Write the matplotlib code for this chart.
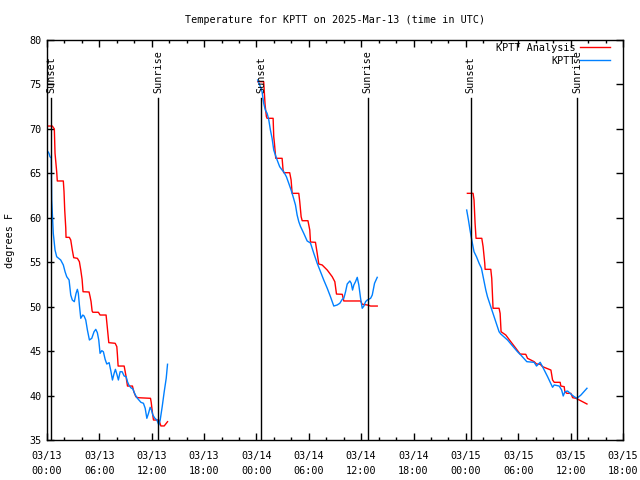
import numpy as np
import pandas as pd
import matplotlib
matplotlib.use("Agg")
import matplotlib.pyplot as plt
import matplotlib.dates as mdates

plt.rcParams['font.family'] = ['DejaVu Sans Mono']
plt.rcParams['font.size'] = 7.3

start = pd.Timestamp('2025-03-13 00:00')

# hours after 03/13 00:00 UTC, temperature in F
ana1_h = [0.11, 0.61, 0.84, 0.92, 1.11, 1.18, 1.87, 1.95, 2.03, 2.15, 2.18, 2.56, 2.72, 2.90, 3.06,
          3.48, 3.71, 3.87, 4.02, 4.13, 4.82, 4.94, 5.05, 5.17, 5.25, 5.89, 6.08, 6.77, 6.92, 7.08,
          7.81, 8.00, 8.07, 8.15, 8.84, 9.03, 9.22, 9.79, 9.95, 10.18, 10.41, 11.86, 11.94, 12.09,
          12.20, 12.82, 13.05, 13.43, 13.81]
ana1_t = [70.32, 70.32, 69.99, 67.25, 65.18, 64.14, 64.14, 62.93, 60.87, 58.85, 57.80, 57.80, 57.50,
          56.37, 55.51, 55.44, 55.06, 54.12, 53.08, 51.68, 51.65, 51.12, 50.56, 49.51, 49.37, 49.37,
          49.06, 49.06, 47.57, 45.95, 45.88, 45.50, 44.56, 43.32, 43.32, 42.31, 41.07, 41.07, 40.43,
          39.87, 39.76, 39.69, 39.24, 38.00, 37.25, 37.25, 36.58, 36.58, 37.06]

obs1_h = [0.11, 0.23, 0.34, 0.49, 0.54, 0.72, 0.92, 1.11, 1.57, 1.87, 2.07, 2.26, 2.53, 2.72, 2.90,
          3.13, 3.33, 3.48, 3.59, 3.71, 3.87, 4.10, 4.25, 4.44, 4.63, 4.86, 5.13, 5.39, 5.59, 5.77,
          5.93, 6.08, 6.28, 6.46, 6.66, 6.85, 7.12, 7.31, 7.50, 7.69, 7.84, 8.03, 8.18, 8.38, 8.61,
          8.84, 9.07, 9.22, 9.38, 9.61, 9.84, 10.07, 10.30, 10.53, 10.76, 11.05, 11.25, 11.44, 11.63,
          11.82, 11.97, 12.13, 12.36, 12.59, 12.82, 12.97, 13.20, 13.43, 13.66, 13.81]
obs1_t = [67.43, 67.25, 66.87, 66.72, 62.00, 58.25, 56.37, 55.62, 55.25, 54.69, 53.93, 53.37, 53.00,
          51.31, 50.75, 50.56, 51.50, 51.95, 51.50, 50.19, 48.69, 49.06, 48.95, 48.50, 47.37, 46.25,
          46.44, 47.18, 47.45, 47.07, 46.25, 44.75, 45.05, 44.93, 44.08, 43.55, 43.70, 42.80, 41.75,
          42.50, 42.95, 42.31, 41.75, 42.68, 42.68, 42.20, 42.12, 41.56, 41.19, 40.88, 40.74, 40.17,
          39.76, 39.50, 39.24, 39.13, 38.57, 37.44, 38.00, 38.68, 38.37, 37.81, 37.44, 37.25, 36.69,
          37.25, 38.75, 40.43, 41.94, 43.52]

ana2_h = [24.14, 24.83, 24.91, 24.99, 25.14, 25.22, 25.91, 25.98, 26.06, 26.21, 26.94, 27.05, 27.12,
          27.81, 27.97, 28.09, 28.85, 28.96, 29.12, 29.24, 29.90, 30.11, 30.19, 30.76, 30.96, 31.14,
          31.53, 32.11, 32.68, 32.98, 33.17, 33.83, 34.01, 35.93, 36.12, 36.70, 37.08, 37.84]
ana2_t = [75.31, 75.31, 74.00, 72.69, 71.37, 71.19, 71.19, 69.12, 68.38, 66.69, 66.69, 65.37, 65.07,
          65.07, 64.25, 62.75, 62.75, 61.81, 60.12, 59.67, 59.67, 58.62, 57.27, 57.24, 56.00, 54.80,
          54.69, 54.12, 53.37, 52.81, 51.42, 51.39, 50.64, 50.64, 50.27, 50.19, 50.07, 50.07]

obs2_h = [24.14, 24.45, 24.64, 24.83, 25.02, 25.22, 25.40, 25.60, 25.79, 25.98, 26.17, 26.37, 26.66,
          26.94, 27.12, 27.43, 27.70, 27.97, 28.20, 28.47, 28.66, 28.85, 29.04, 29.42, 29.81, 30.19,
          30.57, 30.96, 31.34, 31.71, 32.11, 32.48, 32.86, 33.25, 33.55, 33.83, 34.01, 34.21, 34.40,
          34.70, 34.86, 35.01, 35.16, 35.35, 35.55, 35.73, 35.93, 36.12, 36.31, 36.50, 36.70, 37.08,
          37.27, 37.53, 37.84]
obs2_t = [75.50, 74.75, 74.18, 72.88, 72.12, 71.75, 71.08, 69.87, 68.94, 67.62, 67.06, 66.50, 65.75,
          65.37, 65.18, 64.62, 63.88, 63.12, 62.37, 61.44, 60.31, 59.56, 59.04, 58.25, 57.39, 57.16,
          56.00, 54.88, 53.93, 53.00, 52.07, 51.12, 50.07, 50.19, 50.38, 50.83, 50.94, 51.68, 52.55,
          52.89, 52.63, 51.87, 52.44, 52.81, 53.30, 52.44, 50.94, 49.82, 50.07, 50.56, 50.75, 50.94,
          51.31, 52.63, 53.30]

ana3_h = [48.17, 48.82, 48.93, 49.05, 49.16, 49.82, 49.97, 50.16, 50.20, 50.85, 50.96, 51.11, 51.80,
          51.92, 52.03, 52.57, 53.14, 53.72, 54.21, 54.86, 55.06, 55.82, 56.09, 56.51, 56.78, 57.74,
          57.93, 58.12, 58.80, 58.88, 59.26, 59.34, 59.57, 60.03, 60.23, 60.61, 60.99, 61.87]
ana3_t = [62.75, 62.75, 62.00, 59.38, 57.69, 57.69, 56.75, 54.88, 54.20, 54.20, 53.19, 49.82, 49.82,
          49.25, 47.18, 46.81, 46.06, 45.32, 44.67, 44.64, 44.19, 43.81, 43.55, 43.52, 43.25, 42.87,
          41.75, 41.49, 41.49, 41.07, 41.00, 40.43, 40.25, 40.25, 39.76, 39.69, 39.50, 39.05]

obs3_h = [48.09, 48.29, 48.47, 48.67, 48.93, 49.21, 49.51, 49.78, 50.01, 50.28, 50.47, 50.85, 51.23,
          51.80, 52.00, 52.77, 53.91, 54.29, 54.98, 55.82, 56.09, 56.51, 56.78, 57.36, 57.93, 58.12,
          58.69, 58.97, 59.15, 59.34, 59.65, 60.03, 60.41, 60.72, 61.18, 61.87]
obs3_t = [60.87, 59.75, 58.62, 57.50, 56.18, 55.62, 54.88, 54.32, 53.19, 51.87, 51.12, 49.99, 48.87,
          47.18, 46.92, 46.25, 44.93, 44.56, 43.81, 43.74, 43.32, 43.74, 43.25, 42.12, 40.93, 41.19,
          41.07, 40.62, 39.95, 40.43, 40.51, 40.17, 39.87, 39.69, 40.06, 40.82]

sunset_h = [0.46, 24.56, 48.55]
sunrise_h = [12.74, 36.73, 60.72]


def to_time(hours):
    return start + pd.to_timedelta(np.array(hours), unit='h')


fig = plt.figure(figsize=(6.4, 4.8), dpi=100)
ax = fig.add_axes([47 / 640, 40 / 480, 576 / 640, 400 / 480])

red = '#ff0000'
blue = '#0080ff'
for k, (ah, at, oh, ot) in enumerate([(ana1_h, ana1_t, obs1_h, obs1_t),
                                      (ana2_h, ana2_t, obs2_h, obs2_t),
                                      (ana3_h, ana3_t, obs3_h, obs3_t)]):
    ax.plot(to_time(ah), at, color=red, lw=1.0, label='KPTT Analysis' if k == 0 else None)
    ax.plot(to_time(oh), ot, color=blue, lw=1.0, label='KPTT' if k == 0 else None)

for name, hrs in [('Sunset', sunset_h), ('Sunrise', sunrise_h)]:
    for t in to_time(hrs):
        ax.plot([t, t], [35, 73.5], color='black', lw=1.0)
        ax.text(t, 74.0, name, rotation=90, ha='center', va='bottom')

ax.set_xlim(start, start + pd.Timedelta(hours=66))
ax.set_ylim(35, 80)
ax.set_yticks(np.arange(35, 81, 5))
ax.xaxis.set_major_locator(mdates.HourLocator(byhour=[0, 6, 12, 18]))
ax.xaxis.set_minor_locator(mdates.HourLocator(byhour=range(0, 24, 2)))
ax.xaxis.set_major_formatter(mdates.DateFormatter('%m/%d\n%H:%M'))
ax.tick_params(which='major', direction='in', length=5, width=1, top=True, right=True, pad=4)
ax.tick_params(which='minor', direction='in', length=2.5, width=1, top=True, right=True)
ax.tick_params(axis='x', which='major', pad=8)
for lab in ax.get_xticklabels():
    lab.set_linespacing(1.55)
for s in ax.spines.values():
    s.set_linewidth(1.0)

ax.set_ylabel('degrees F', labelpad=10)
ax.set_title('Temperature for KPTT on 2025-Mar-13 (time in UTC)', fontsize=7.3, pad=12)
ax.legend(loc='upper right', bbox_to_anchor=(0.978, 0.993), frameon=False, markerfirst=False,
          handlelength=3.0, borderaxespad=0.0, labelspacing=0.32, handletextpad=0.4, borderpad=0.0)

fig.savefig('out.png', dpi=100)
